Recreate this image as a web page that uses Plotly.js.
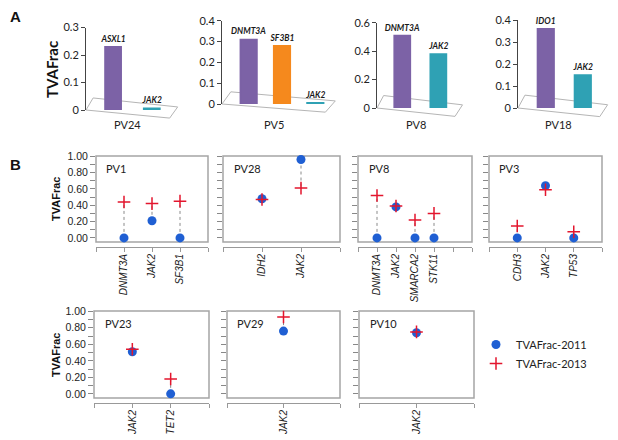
<!DOCTYPE html>
<html><head><meta charset="utf-8">
<script src="https://cdn.plot.ly/plotly-3.0.1.min.js"></script>
<style>html,body{margin:0;padding:0;background:#fff}#chart{width:618px;height:440px}</style>
</head><body><div id="chart"></div>
<script>
// ---------- Panel A data (TVAFrac per gene) ----------
const pv24Genes = ['ASXL1', 'JAK2'];
const pv24Vaf   = [0.23, 0.006];
const pv5Genes  = ['DNMT3A', 'SF3B1', 'JAK2'];
const pv5Vaf    = [0.31, 0.28, 0.006];
const pv8aGenes = ['DNMT3A', 'JAK2'];
const pv8aVaf   = [0.51, 0.38];
const pv18Genes = ['IDO1', 'JAK2'];
const pv18Vaf   = [0.36, 0.15];

// ---------- Panel B data (TVAFrac 2011 vs 2013) ----------
const pv1Genes  = ['DNMT3A', 'JAK2', 'SF3B1'];
const pv1V2011  = [0.00, 0.21, 0.00];
const pv1V2013  = [0.44, 0.42, 0.45];
const pv28Genes = ['IDH2', 'JAK2'];
const pv28V2011 = [0.48, 0.96];
const pv28V2013 = [0.47, 0.61];
const pv8Genes  = ['DNMT3A', 'JAK2', 'SMARCA2', 'STK11'];
const pv8V2011  = [0.00, 0.38, 0.00, 0.00];
const pv8V2013  = [0.52, 0.39, 0.22, 0.30];
const pv3Genes  = ['CDH3', 'JAK2', 'TP53'];
const pv3V2011  = [0.00, 0.64, 0.00];
const pv3V2013  = [0.145, 0.59, 0.075];
const pv23Genes = ['JAK2', 'TET2'];
const pv23V2011 = [0.51, 0.00];
const pv23V2013 = [0.54, 0.18];
const pv29Genes = ['JAK2'];
const pv29V2011 = [0.76];
const pv29V2013 = [0.93];
const pv10Genes = ['JAK2'];
const pv10V2011 = [0.74];
const pv10V2013 = [0.75];
const yTickVals = [0, 0.2, 0.4, 0.6, 0.8, 1.0];

// ---------- helpers ----------
const W = 618, H = 440;
const fx = p => p / W, fy = p => 1 - p / H;
const geneColor = g => g === 'JAK2' ? '#2fa1b4' : (g === 'SF3B1' ? '#f5891d' : '#7c62a6');
const data = [], shapes = [], annotations = [];
const layout = {
  width: W, height: H, margin: {l: 0, r: 0, t: 0, b: 0},
  paper_bgcolor: '#fff', plot_bgcolor: 'rgba(0,0,0,0)',
  showlegend: true,
  legend: {x: fx(476), y: fy(330), xanchor: 'left', yanchor: 'top',
           font: {family: 'Lato', size: 11, color: '#222'}, bgcolor: 'rgba(0,0,0,0)',
           itemwidth: 30, tracegroupgap: 0},
  font: {family: 'Liberation Sans'}
};
let axN = 0;
function ids() {
  axN++;
  const s = axN === 1 ? '' : String(axN);
  return {xa: 'x' + s, ya: 'y' + s, xk: 'xaxis' + s, yk: 'yaxis' + s};
}

function barPanel(name, genes, vals, box, yMax, dtick, xr, bw) {
  const a = ids();
  const cols = genes.map(geneColor);
  data.push({
    type: 'bar', x: genes.map((g, i) => i), y: vals, xaxis: a.xa, yaxis: a.ya,
    width: bw, marker: {color: cols, line: {color: cols, width: 1.5}},
    text: genes, textposition: 'outside', textangle: 0, constraintext: 'none',
    cliponaxis: false,
    textfont: {family: 'Lato', size: 8.5, weight: 'bold', style: 'italic', color: '#1a1a1a'},
    showlegend: false, hoverinfo: 'skip'
  });
  layout[a.xk] = {domain: [fx(box.l), fx(box.r)], anchor: a.ya, range: xr, visible: false};
  layout[a.yk] = {
    domain: [fy(box.b), fy(box.t)], anchor: a.xa, range: [0, yMax], tick0: 0, dtick: dtick,
    ticks: 'outside', ticklen: 4, tickcolor: '#444', showline: true, linecolor: '#444', linewidth: 1,
    showgrid: false, zeroline: false, tickfont: {family: 'Lato', size: 11, color: '#222'}
  };
  shapes.push({type: 'path', xref: a.xa + ' domain', yref: a.ya + ' domain',
    path: 'M0,0 L0.08,0.146 L1.03,0.037 L0.94,-0.098 Z',
    line: {color: '#b5b5b5', width: 1}, layer: 'below'});
  annotations.push({xref: a.xa + ' domain', x: 0.47, yref: 'paper', y: fy(124.5),
    text: name, showarrow: false, xanchor: 'center', yanchor: 'middle',
    font: {family: 'Lato', size: 11, color: '#222'}});
}

function dotPanel(name, genes, v11, v13, box, axisY, nSlots, showY, legend) {
  const a = ids();
  const xs = genes.map((g, i) => i);
  const lx = [], ly = [];
  xs.forEach((x, i) => { lx.push(x, x, null); ly.push(v11[i], v13[i], null); });
  data.push({type: 'scatter', mode: 'lines', x: lx, y: ly, xaxis: a.xa, yaxis: a.ya,
    line: {color: '#8a8a8a', width: 1, dash: 'dot'}, showlegend: false, hoverinfo: 'skip', cliponaxis: false});
  data.push({type: 'scatter', mode: 'markers', name: 'TVAFrac-2011', x: xs, y: v11,
    xaxis: a.xa, yaxis: a.ya, marker: {symbol: 'circle', size: 9, color: '#1f5fd3'},
    showlegend: legend, legendrank: 1, cliponaxis: false});
  data.push({type: 'scatter', mode: 'markers', name: 'TVAFrac-2013', x: xs, y: v13,
    xaxis: a.xa, yaxis: a.ya,
    marker: {symbol: 'cross-thin', size: 9, color: '#e3162e', line: {color: '#e3162e', width: 1.5}},
    showlegend: legend, legendrank: 2, cliponaxis: false});
  const tv = [], tt = [];
  for (let i = -1; i <= nSlots; i++) { tv.push(i); tt.push(i >= 0 && i < genes.length ? genes[i] : ''); }
  layout[a.xk] = {
    domain: [fx(box.l), fx(box.r)], anchor: 'free', position: fy(axisY), range: [-1, nSlots],
    tickmode: 'array', tickvals: tv, ticktext: tt, tickangle: -90,
    ticks: 'outside', ticklen: 4, tickcolor: '#999', showline: true, linecolor: '#999', linewidth: 1,
    showgrid: false, zeroline: false, ticklabelstandoff: -2,
    tickfont: {family: 'Liberation Sans', size: 10, style: 'italic', color: '#222'}
  };
  layout[a.yk] = {
    domain: [fy(box.b), fy(box.t)], anchor: a.xa, range: [-0.05, 1.003],
    tickmode: 'array', tickvals: yTickVals, tickformat: '.2f',
    ticks: 'outside', ticklen: 5, tickcolor: '#888',
    minor: {dtick: 0.1, tick0: 0, ticks: 'outside', ticklen: 5, tickcolor: '#888'},
    showticklabels: showY, showline: false, showgrid: false, zeroline: false,
    tickfont: {family: 'Liberation Sans', size: 10.5, color: '#222'}
  };
  shapes.push({type: 'rect', xref: a.xa + ' domain', yref: a.ya + ' domain',
    x0: 0, x1: 1, y0: 0, y1: 1, line: {color: '#a5a5a5', width: 1.5}, layer: 'below'});
  annotations.push({xref: a.xa + ' domain', x: 0.075, yref: a.ya + ' domain', y: 0.86,
    text: name, showarrow: false, xanchor: 'left', yanchor: 'middle',
    font: {family: 'Lato', size: 11, color: '#222'}});
}

// ---------- Panel A ----------
barPanel('PV24', pv24Genes, pv24Vaf, {l: 86, r: 175, t: 27.5, b: 110}, 0.3, 0.1, [-0.7, 1.6], 0.42);
barPanel('PV5', pv5Genes, pv5Vaf, {l: 222, r: 332, t: 20.7, b: 104}, 0.4, 0.1, [-0.8, 2.5], 0.5);
barPanel('PV8', pv8aGenes, pv8aVaf, {l: 377, r: 460, t: 22.7, b: 108}, 0.6, 0.2, [-0.7, 1.6], 0.45);
barPanel('PV18', pv18Genes, pv18Vaf, {l: 518, r: 605, t: 20, b: 108}, 0.4, 0.1, [-0.75, 1.6], 0.45);

// ---------- Panel B ----------
const rowTop = {t: 156, b: 242}, rowBot = {t: 311, b: 398};
dotPanel('PV1', pv1Genes, pv1V2011, pv1V2013, {l: 96, r: 208, ...rowTop}, 247, 3, true, true);
dotPanel('PV28', pv28Genes, pv28V2011, pv28V2013, {l: 223, r: 340, ...rowTop}, 247, 2, false, false);
dotPanel('PV8', pv8Genes, pv8V2011, pv8V2013, {l: 358, r: 472, ...rowTop}, 247, 5, false, false);
dotPanel('PV3', pv3Genes, pv3V2011, pv3V2013, {l: 489, r: 602, ...rowTop}, 247, 3, false, false);
dotPanel('PV23', pv23Genes, pv23V2011, pv23V2013, {l: 94, r: 209, ...rowBot}, 403, 2, true, false);
dotPanel('PV29', pv29Genes, pv29V2011, pv29V2013, {l: 227, r: 340, ...rowBot}, 403, 1, false, false);
dotPanel('PV10', pv10Genes, pv10V2011, pv10V2013, {l: 359, r: 474, ...rowBot}, 403, 1, false, false);

// ---------- labels ----------
const lbl = (x, y, text, font, extra) => annotations.push(Object.assign({
  xref: 'paper', yref: 'paper', x: fx(x), y: fy(y), text: text, showarrow: false,
  xanchor: 'center', yanchor: 'middle', font: font}, extra || {}));
lbl(15, 17, '<b>A</b>', {family: 'Liberation Sans', size: 15, color: '#111'});
lbl(15, 164, '<b>B</b>', {family: 'Liberation Sans', size: 15, color: '#111'});
lbl(52, 70, '<b>TVAFrac</b>', {family: 'Lato', size: 15, color: '#111'}, {textangle: -90});
lbl(56, 199, '<b>TVAFrac</b>', {family: 'Liberation Sans', size: 11, color: '#111'}, {textangle: -90});
lbl(56, 355, '<b>TVAFrac</b>', {family: 'Liberation Sans', size: 11, color: '#111'}, {textangle: -90});

layout.shapes = shapes;
layout.annotations = annotations;
Plotly.newPlot('chart', data, layout, {displayModeBar: false, staticPlot: true});
</script></body></html>
